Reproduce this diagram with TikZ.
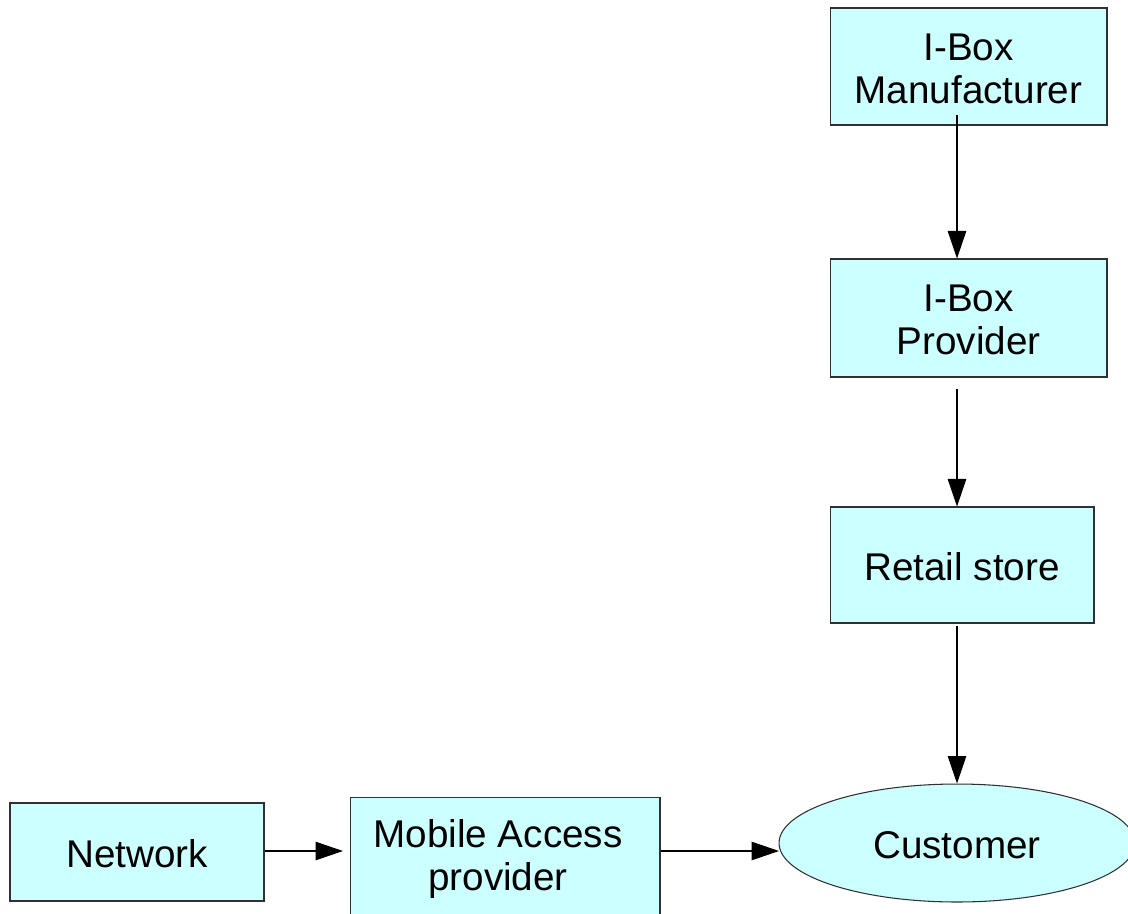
\documentclass[tikz,border=0pt]{standalone}
\usepackage{fontspec}
\setmainfont{Liberation Sans}
\usetikzlibrary{arrows.meta,shapes.geometric}
\definecolor{boxfill}{HTML}{CCFFFF}
\definecolor{boxline}{HTML}{303030}
\tikzset{
  entity/.style={draw=boxline, fill=boxfill, line width=0.6pt, inner sep=0pt,
    align=center, font=\fontsize{22}{24.5}\selectfont},
  caption/.style={inner sep=0pt, align=center, font=\fontsize{22}{24.5}\selectfont},
  flow/.style={draw=black, line width=0.6pt,
    -{Triangle[length=0.55cm,width=0.37cm]}},
}
\begin{document}
\begin{tikzpicture}[x=0.02cm,y=-0.02cm]
  \useasboundingbox (0,0) rectangle (1128,913);
  \begin{scope}
    \clip (0,0) rectangle (1128,913);
    % supply chain on the right
    \node[entity, minimum width=5.54cm, minimum height=2.34cm] (man) at (968.5,66.5) {};
    \node[caption] (mantxt) at (968.5,68.5) {I-Box\\Manufacturer};
    \node[entity, minimum width=5.54cm, minimum height=2.36cm] (prov) at (968.5,318) {};
    \node[caption] (provtxt) at (968.5,320) {I-Box\\Provider};
    \node[entity, minimum width=5.28cm, minimum height=2.32cm] (ret) at (962,565) {};
    \node[caption] (rettxt) at (962,567) {Retail store};
    \node[entity, ellipse, minimum width=7.12cm, minimum height=2.36cm] (cust) at (957,843) {};
    \node[caption] (custtxt) at (957,845) {Customer};
    % access chain along the bottom
    \node[entity, minimum width=5.08cm, minimum height=1.96cm] (net) at (137,852) {};
    \node[caption] (nettxt) at (137,854) {Network};
    \node[entity, minimum width=6.2cm, minimum height=2.36cm] (mob) at (505,856) {};
    \node[caption] (mobtxt) at (498,859) {Mobile Access\\provider};
    % connectors
    \coordinate (a1) at (957,115);
    \draw[flow] (a1) -- (man.south -| a1) -- (prov.north -| a1);
    \coordinate (b1) at (957,389);
    \draw[flow] (b1) -- (ret.north -| b1);
    \coordinate (c1) at (957,626);
    \draw[flow] (c1) -- (cust.north);
    \coordinate (d2) at (343,851);
    \draw[flow] (net.east |- d2) -- (d2);
    \coordinate (e2) at (779,851);
    \draw[flow] (mob.east |- e2) -- (e2);
  \end{scope}
\end{tikzpicture}
\end{document}
